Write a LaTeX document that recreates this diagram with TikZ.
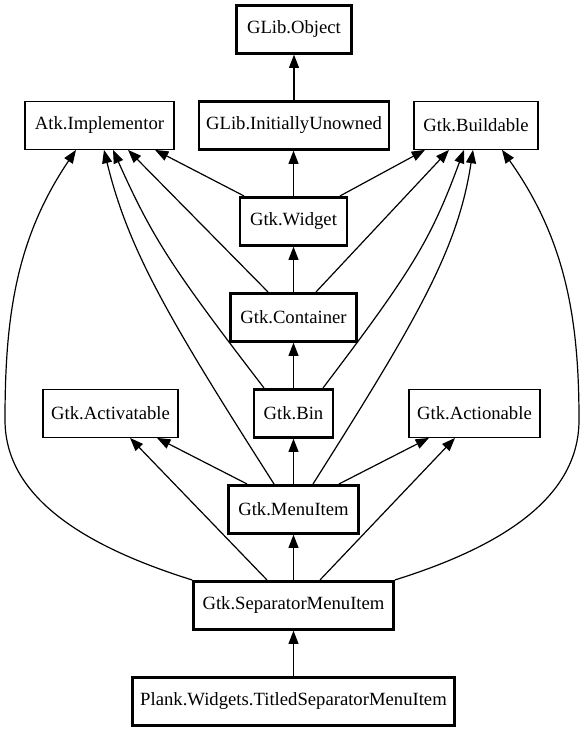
\documentclass[tikz,border=0pt]{standalone}
\usepackage{fontspec}
\setmainfont{Liberation Serif}
\usetikzlibrary{arrows.meta,calc}
\begin{document}
\begin{tikzpicture}[x=0.75pt,y=-0.75pt,
  box/.style={draw,rectangle,inner sep=0pt,minimum height=36pt,font=\fontsize{14pt}{16pt}\selectfont},
  thinbox/.style={box,line width=0.9pt},
  boldbox/.style={box,line width=2pt},
  edge/.style={line width=0.9pt,-{Triangle[length=10pt,width=7.5pt]}}]
\useasboundingbox (0,0) rectangle (584,731);
% nodes
\node[boldbox,minimum width=86pt] (obj) at (294,29.3) {GLib.Object};
\node[thinbox,minimum width=111.75pt] (atk) at (99.5,125.3) {Atk.Implementor};
\node[boldbox,minimum width=142.5pt] (iu) at (294,125.3) {GLib.InitiallyUnowned};
\node[thinbox,minimum width=93pt] (bld) at (476,125.3) {Gtk.Buildable};
\node[boldbox,minimum width=80.25pt] (wid) at (293.5,221.3) {Gtk.Widget};
\node[boldbox,minimum width=94.5pt] (con) at (293.5,317.3) {Gtk.Container};
\node[thinbox,minimum width=101.25pt] (act) at (110.5,413.3) {Gtk.Activatable};
\node[boldbox,minimum width=59.25pt] (bin) at (293.5,413.3) {Gtk.Bin};
\node[thinbox,minimum width=98.25pt] (acn) at (474.5,413.3) {Gtk.Actionable};
\node[boldbox,minimum width=97.5pt] (mi) at (293.5,509.3) {Gtk.MenuItem};
\node[boldbox,minimum width=150pt] (sep) at (293.5,605.3) {Gtk.SeparatorMenuItem};
\node[boldbox,minimum width=241.5pt] (plk) at (293.5,701.3) {Plank.Widgets.TitledSeparatorMenuItem};
% vertical edges
\draw[edge] (iu.north -| obj.south) -- (obj.south);
\draw[edge] (wid.north) -- (wid.north |- iu.south);
\draw[edge] (con) -- (wid);
\draw[edge] (bin) -- (con);
\draw[edge] (mi) -- (bin);
\draw[edge] (sep) -- (mi);
\draw[edge] (plk) -- (sep);
% Widget
\draw[edge] ($(wid.north)+(-49.5,0)$) -- ($(atk.south)+(55.5,0)$);
\draw[edge] ($(wid.north)+(46.5,0)$) -- ($(bld.south)+(-51,0)$);
% Container
\draw[edge] ($(con.north)+(-25.5,0)$) -- ($(atk.south)+(28.5,0)$);
\draw[edge] ($(con.north)+(22.5,0)$) -- ($(bld.south)+(-27,0)$);
% Bin
\draw[edge] ($(bin.north)+(-29.5,0)$) .. controls (172,268) and (153,239) .. ($(atk.south)+(13.5,0)$);
\draw[edge] ($(bin.north)+(29.5,0)$) .. controls (414,268) and (431,239) .. ($(bld.south)+(-12,0)$);
% MenuItem
\draw[edge] ($(mi.north)+(-19.5,0)$) .. controls (168,318) and (128,249) .. ($(atk.south)+(4.5,0)$);
\draw[edge] ($(mi.north)+(19.5,0)$) .. controls (418,318) and (458,249) .. ($(bld.south)+(-3,0)$);
\draw[edge] ($(mi.north)+(-46.5,0)$) -- ($(act.south)+(46.5,0)$);
\draw[edge] ($(mi.north)+(45.5,0)$) -- ($(acn.south)+(-45.5,0)$);
% SeparatorMenuItem
\draw[edge] ($(sep.north)+(-26.5,0)$) -- ($(act.south)+(19.5,0)$);
\draw[edge] ($(sep.north)+(26.5,0)$) -- ($(acn.south)+(-19.5,0)$);
\draw[edge] (sep.north west) .. controls (80,545) and (5,495) .. (5,420)
  .. controls (5,320) and (15,240) .. ($(atk.south)+(-23.5,0)$);
\draw[edge] (sep.north east) .. controls (507,545) and (579,495) .. (579,420)
  .. controls (579,320) and (566,240) .. ($(bld.south)+(26,0)$);
\end{tikzpicture}
\end{document}
